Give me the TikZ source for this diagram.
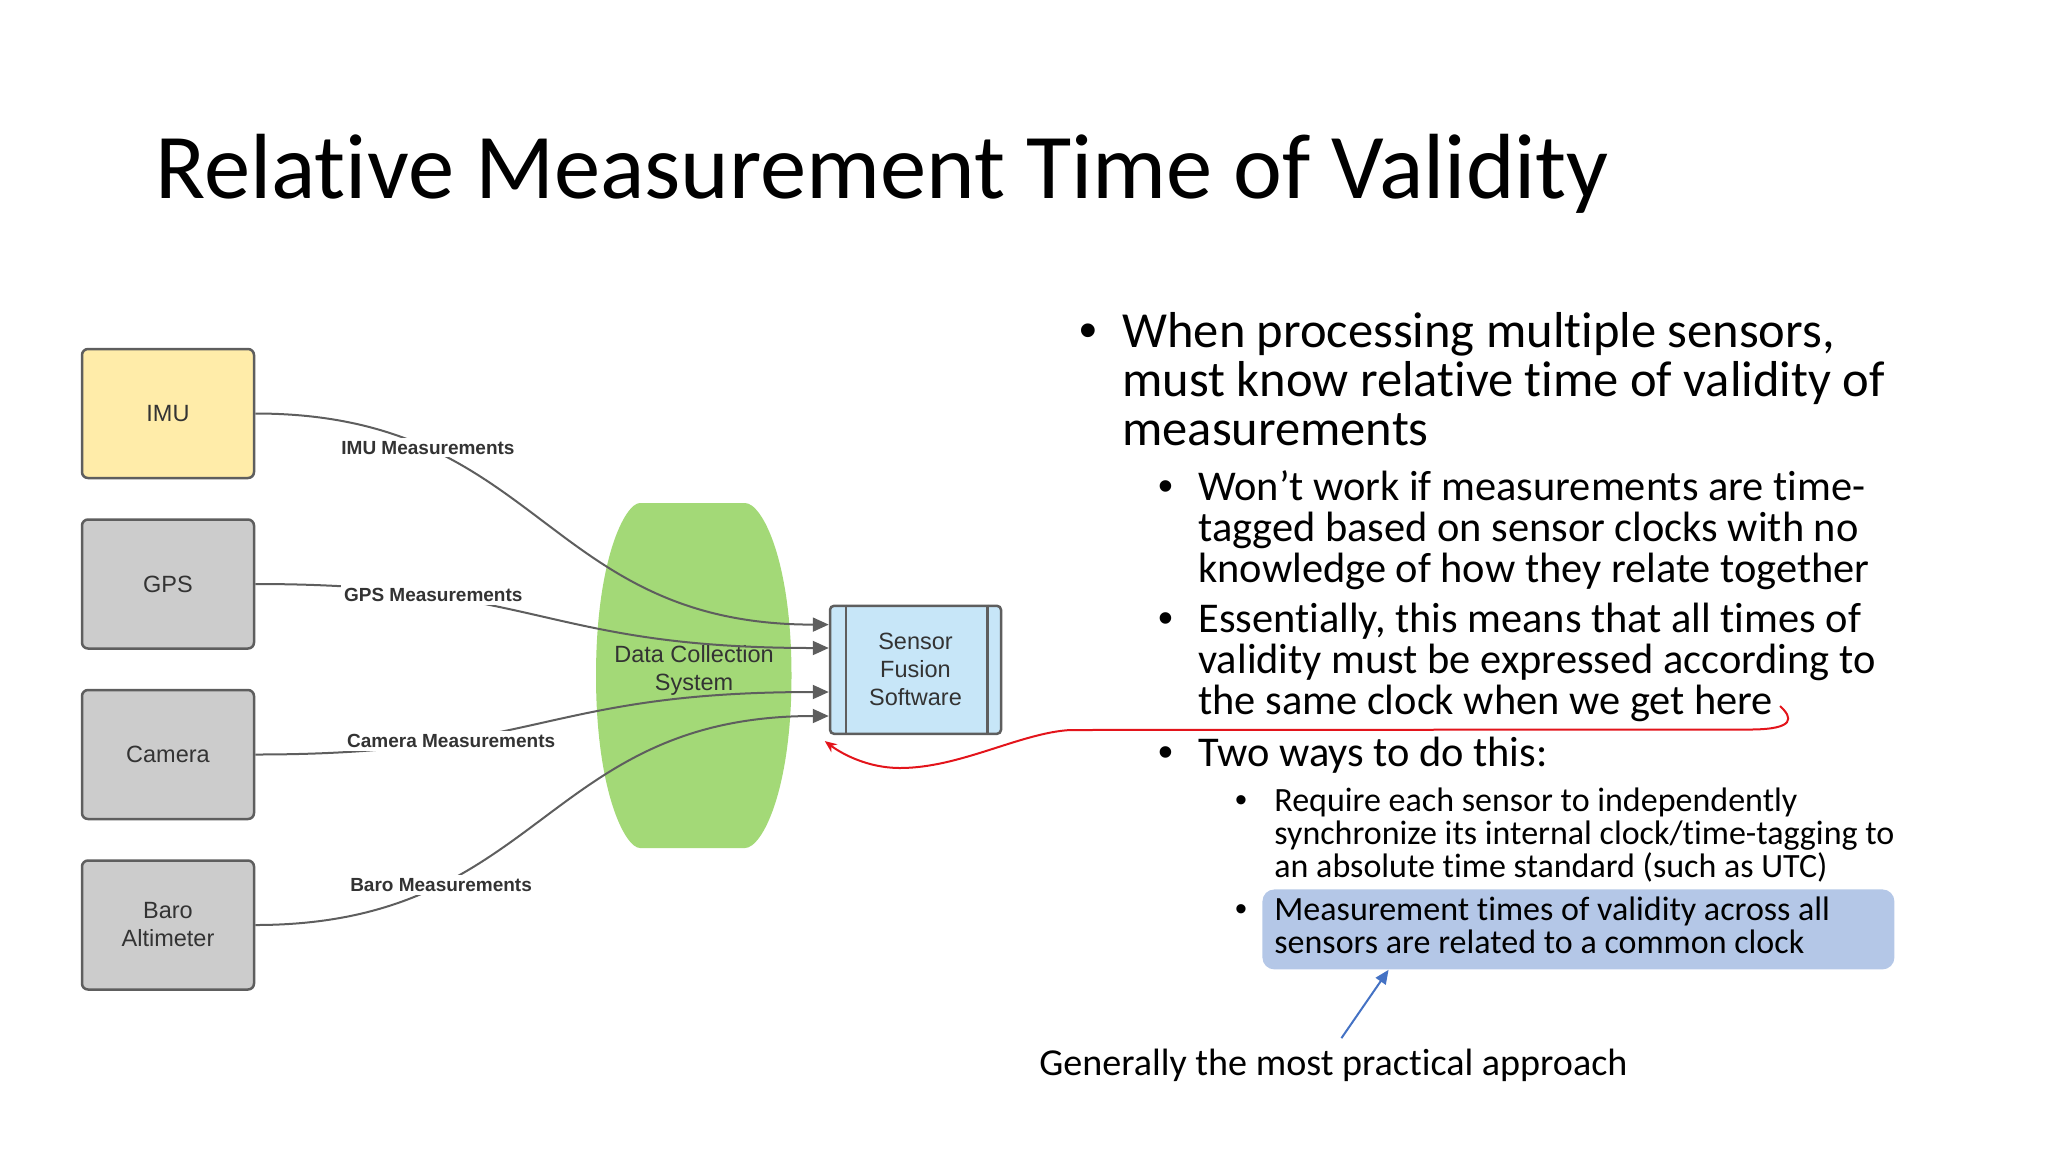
\documentclass[tikz,border=0pt]{standalone}
\usepackage{fontspec}
\setmainfont{Carlito}[Ligatures={NoCommon}]
\newfontfamily\lucid{Liberation Sans}
\usepackage{tikz}
\usetikzlibrary{arrows.meta,positioning,calc}
\definecolor{edge}{HTML}{5E5E5E}
\definecolor{ink}{HTML}{333333}
\definecolor{boxgray}{HTML}{CCCCCC}
\definecolor{imuyellow}{HTML}{FFECA9}
\definecolor{dcsgreen}{HTML}{A3D977}
\definecolor{sfsblue}{HTML}{C7E6F8}
\definecolor{hilite}{HTML}{B4C7E7}
\definecolor{hintblue}{HTML}{4472C4}
\definecolor{flagred}{HTML}{E3141B}
\lineskiplimit=-50pt

\begin{document}
\begin{tikzpicture}[x=0.5pt,y=-0.5pt,
	sensor/.style={draw=edge,line width=1.25pt,rounded corners=3pt,fill=boxgray,minimum width=86pt,minimum height=64.5pt,text=ink,font=\lucid\fontsize{11.75}{14}\selectfont,align=center},
	feed/.style={draw=edge,line width=1pt,-{Triangle[length=8pt,width=7pt]}},
	tag/.style={fill=white,inner sep=1.5pt,text=ink,font=\lucid\bfseries\fontsize{9.5}{11}\selectfont},
	para/.style={anchor=base west,inner sep=0pt,align=left},
	bul/.style={anchor=base,inner sep=0pt},
	lone/.style={font=\fontsize{25.25}{24.5}\selectfont},
	ltwo/.style={font=\fontsize{21.2}{20.5}\selectfont},
	lthree/.style={font=\fontsize{17}{16.5}\selectfont}]
\useasboundingbox (0,0) rectangle (2048,1152);
\node[anchor=base west,inner sep=0pt,font=\fontsize{46.3}{50}\selectfont] (title) at (155,198) {Relative Measurement Time of Validity};

\fill[dcsgreen] (640,503) -- (745,503) .. controls (762,503) and (791.5,560) .. (791.5,675.5) .. controls (791.5,791) and (762,848) .. (745,848) -- (640,848) .. controls (625,848) and (596,791) .. (596,675.5) .. controls (596,560) and (625,503) .. (640,503) -- cycle;
\node[text=ink,font=\lucid\fontsize{11.75}{14}\selectfont,align=center] (dcs) at (694,670) {Data Collection\\System};

\node[sensor,fill=imuyellow] (imu) at (168,413.5) {IMU};
\node[sensor,below=19.5pt of imu] (gps) {GPS};
\node[sensor,below=19.5pt of gps] (cam) {Camera};
\node[sensor,below=19.5pt of cam] (baro) {Baro\\Altimeter};
\node[sensor,fill=sfsblue,minimum width=85.5pt,minimum height=64pt,rounded corners=2pt] (sfs) at (915.5,669.8) {Sensor\\Fusion\\Software};
\draw[edge,line width=1.25pt] ([xshift=8.5pt]sfs.north west) -- ([xshift=8.5pt]sfs.south west);
\draw[edge,line width=1.25pt] ([xshift=-7.5pt]sfs.north east) -- ([xshift=-7.5pt]sfs.south east);

\draw[feed] (imu.east) .. controls +(286,0) and +(-286,0) .. ([yshift=22.6pt]sfs.west) node[tag,pos=0.255] {IMU Measurements};
\draw[feed] (gps.east) .. controls +(286,0) and +(-286,0) .. ([yshift=10.9pt]sfs.west) node[tag,pos=0.265] {GPS Measurements};
\draw[feed] (cam.east) .. controls +(286,0) and +(-286,0) .. ([yshift=-11.1pt]sfs.west) node[tag,pos=0.3] {Camera Measurements};
\draw[feed] (baro.east) .. controls +(286,0) and +(-286,0) .. ([yshift=-23.1pt]sfs.west) node[tag,pos=0.28] {Baro Measurements};

\node[bul,lone] (b1) at (1088,347) {\lucid •};
\node[para,lone] (p1) at (1122,445) {When processing multiple sensors,\\must know relative time of validity of\\measurements};
\node[bul,ltwo] (b2) at (1166,500) {\lucid •};
\node[para,ltwo] (p2) at (1198,582) {Won’t work if measurements are time-\\tagged based on sensor clocks with no\\knowledge of how they relate together};
\node[bul,ltwo] (b3) at (1166,632) {\lucid •};
\node[para,ltwo] (p3) at (1198,714) {Essentially, this means that all times of\\validity must be expressed according to\\the same clock when we get here};
\node[bul,ltwo] (b4) at (1166,766) {\lucid •};
\node[para,ltwo] (p4) at (1198,766) {Two ways to do this:};
\node[bul,lthree] (b5) at (1241,811) {\lucid •};
\node[para,lthree] (p5) at (1274,877) {Require each sensor to independently\\synchronize its internal clock/time-tagging to\\an absolute time standard (such as UTC)};
\node[fill=hilite,rounded corners=6pt,minimum width=316pt,minimum height=40pt,anchor=north west,inner sep=0pt] (hl) at (1262,889) {};
\node[bul,lthree] (b6) at (1241,920) {\lucid •};
\node[para,lthree] (p6) at (1274,953) {Measurement times of validity across all\\sensors are related to a common clock};
\node[para,font=\fontsize{19.05}{22}\selectfont] (note) at (1039,1075) {Generally the most practical approach};

\draw[hintblue,line width=1pt,-{Triangle[length=7pt,width=6pt]}] ($(note.north)+(8,-10)$) -- ($(hl.south west)!0.2!(hl.south east)$);
\coordinate (here) at (1780,706);
\draw[flagred,line width=1pt,-{Stealth[length=6pt,width=5pt]}] (here) .. controls (1793,718) and (1795,729) .. (1752,729.5) -- (1070,730) .. controls (1020,733) and (960,768) .. (900,768) .. controls (868,768) and (842,754) .. ([xshift=-2pt,yshift=-3pt]sfs.south west);
\end{tikzpicture}
\end{document}
